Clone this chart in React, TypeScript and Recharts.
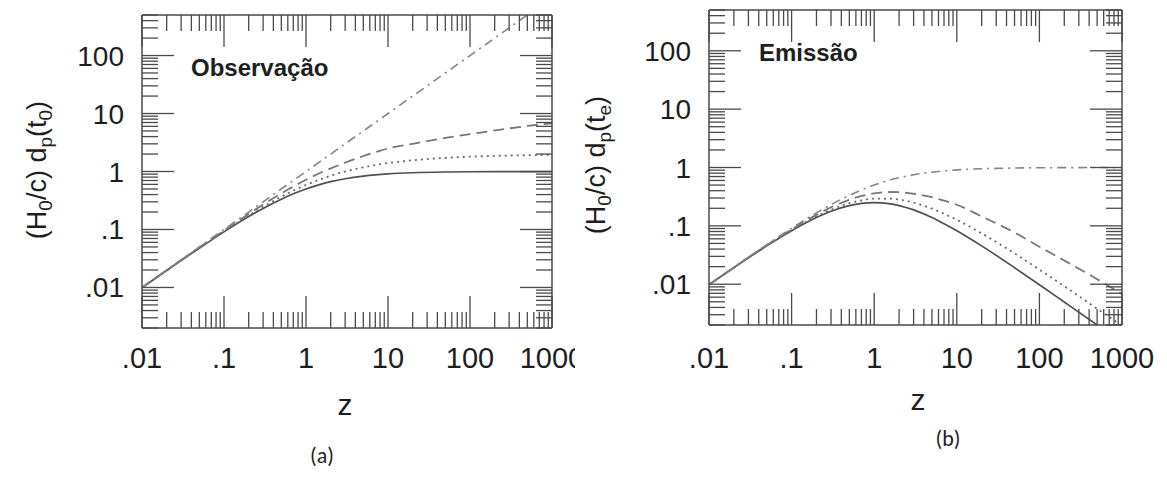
import React from 'react';
import { LineChart, Line, XAxis, YAxis } from 'recharts';

// Redshift samples (shared by both panels)
const zValues = [0.01, 0.02, 0.05, 0.1, 0.2, 0.3, 0.5, 0.7, 1, 1.5, 2, 3, 5, 7, 10, 20, 50, 100, 200, 500, 1000];

// (a) Observação : (H0/c) dp(t0)
const obsSolid = [0.0099, 0.0196, 0.0476, 0.0909, 0.167, 0.231, 0.333, 0.412, 0.5, 0.6, 0.667, 0.75, 0.833, 0.875, 0.909, 0.952, 0.98, 0.99, 0.995, 0.998, 0.999];
const obsDotted = [0.0099, 0.0197, 0.0482, 0.0931, 0.174, 0.246, 0.367, 0.466, 0.586, 0.735, 0.845, 1.0, 1.18, 1.29, 1.4, 1.56, 1.72, 1.8, 1.86, 1.91, 1.94];
const obsDashed = [0.01, 0.0199, 0.049, 0.096, 0.185, 0.27, 0.42, 0.55, 0.72, 0.95, 1.13, 1.42, 1.85, 2.15, 2.5, 3.0, 3.8, 4.4, 5.1, 6.1, 6.8];
const obsDashDot = [0.01, 0.02, 0.05, 0.1, 0.2, 0.3, 0.5, 0.7, 1, 1.5, 2, 3, 5, 7, 10, 20, 50, 100, 200, 500, 1000];

// (b) Emissão : (H0/c) dp(te)
const emiSolid = [0.0098, 0.0192, 0.0454, 0.0826, 0.139, 0.178, 0.222, 0.242, 0.25, 0.24, 0.222, 0.1875, 0.139, 0.109, 0.0826, 0.0454, 0.0192, 0.0098, 0.00495, 0.002, 0.001];
const emiDotted = [0.0098, 0.0193, 0.0459, 0.0846, 0.145, 0.189, 0.245, 0.274, 0.293, 0.294, 0.282, 0.25, 0.197, 0.161, 0.127, 0.0744, 0.0337, 0.0178, 0.00925, 0.0038, 0.00194];
const emiDashed = [0.0099, 0.0194, 0.0467, 0.087, 0.154, 0.208, 0.28, 0.325, 0.36, 0.38, 0.377, 0.355, 0.31, 0.27, 0.23, 0.145, 0.077, 0.044, 0.0255, 0.0122, 0.0068];
const emiDashDot = [0.0099, 0.0196, 0.0476, 0.0909, 0.167, 0.231, 0.333, 0.412, 0.5, 0.6, 0.667, 0.75, 0.833, 0.875, 0.909, 0.952, 0.98, 0.99, 0.995, 0.998, 0.999];

// Axes
const xDomain = [0.01, 1000];
const yDomain = [0.002, 500];
const xMajorTicks = [0.01, 0.1, 1, 10, 100, 1000];
const xTickLabels = ['.01', '.1', '1', '10', '100', '1000'];
const yMajorTicks = [0.01, 0.1, 1, 10, 100];
const yTickLabels = ['.01', '.1', '1', '10', '100'];
const minorMultipliers = [2, 3, 4, 5, 6, 7, 8, 9];
const xDecades = [0.01, 0.1, 1, 10, 100];
const yDecades = [0.001, 0.01, 0.1, 1, 10, 100];

const xTicks = [...xMajorTicks, ...xDecades.flatMap((d) => minorMultipliers.map((m) => m * d))].sort((a, b) => a - b);
const yTicks = [...yMajorTicks, ...yDecades.flatMap((d) => minorMultipliers.map((m) => m * d))]
  .filter((v) => v >= yDomain[0] * 0.999 && v <= yDomain[1] * 1.001)
  .sort((a, b) => a - b);

const FONT = "'Liberation Sans', Arial, Helvetica, sans-serif";
const AXIS = '#4a4a4a';
const TEXT = '#1e1e1e';
const MAJOR_LEN = 32;
const MINOR_LEN = 16;

const findLabel = (v: number, majors: number[], labels: string[]) => {
  const i = majors.findIndex((m) => Math.abs(m - v) / m < 1e-6);
  return i >= 0 ? labels[i] : null;
};

const makeTick = (side: 'bottom' | 'top' | 'left' | 'right', withLabel: boolean, labelOffset: number) => (props: any) => {
  const { x, y, payload } = props;
  const v = payload.value as number;
  const isX = side === 'bottom' || side === 'top';
  const label = isX ? findLabel(v, xMajorTicks, xTickLabels) : findLabel(v, yMajorTicks, yTickLabels);
  const len = label ? MAJOR_LEN : MINOR_LEN;
  let x2 = x, y2 = y;
  if (side === 'bottom') y2 = y - len;
  if (side === 'top') y2 = y + len;
  if (side === 'left') x2 = x + len;
  if (side === 'right') x2 = x - len;
  return (
    <g>
      <line x1={x} y1={y} x2={x2} y2={y2} stroke={AXIS} strokeWidth={1.3} />
      {withLabel && label && side === 'bottom' && (
        <text x={x} y={y + labelOffset} textAnchor="middle" fontSize={29} fontFamily={FONT} fill={TEXT}>
          {label}
        </text>
      )}
      {withLabel && label && side === 'left' && (
        <text x={x - labelOffset} y={y} dy={10} textAnchor="end" fontSize={28} fontFamily={FONT} fill={TEXT}>
          {label}
        </text>
      )}
    </g>
  );
};

const buildRows = (s: number[], d: number[], da: number[], dd: number[]) =>
  zValues.map((z, i) => ({ z, solid: s[i], dotted: d[i], dashed: da[i], dashdot: dd[i] }));

const obsRows = buildRows(obsSolid, obsDotted, obsDashed, obsDashDot);
const emiRows = buildRows(emiSolid, emiDotted, emiDashed, emiDashDot);

type PanelProps = {
  rows: any[];
  width: number;
  height: number;
  margin: { top: number; right: number; bottom: number; left: number };
  xLabelOffset: number;
};

const Panel = ({ rows, width, height, margin, xLabelOffset }: PanelProps) => (
  <LineChart width={width} height={height} data={rows} margin={margin}>
    <XAxis
      xAxisId="bottom"
      orientation="bottom"
      dataKey="z"
      type="number"
      scale="log"
      domain={xDomain}
      allowDataOverflow
      ticks={xTicks}
      interval={0}
      height={1}
      tickSize={0}
      tickMargin={0}
      tickLine={false}
      axisLine={{ stroke: AXIS, strokeWidth: 1.5 }}
      tick={makeTick('bottom', true, xLabelOffset)}
    />
    <XAxis
      xAxisId="top"
      orientation="top"
      dataKey="z"
      type="number"
      scale="log"
      domain={xDomain}
      allowDataOverflow
      ticks={xTicks}
      interval={0}
      height={1}
      tickSize={0}
      tickMargin={0}
      tickLine={false}
      axisLine={{ stroke: AXIS, strokeWidth: 1.5 }}
      tick={makeTick('top', false, 0)}
    />
    <YAxis
      yAxisId="left"
      orientation="left"
      type="number"
      scale="log"
      domain={yDomain}
      allowDataOverflow
      ticks={yTicks}
      interval={0}
      width={60}
      tickSize={0}
      tickMargin={0}
      tickLine={false}
      axisLine={{ stroke: AXIS, strokeWidth: 1.5 }}
      tick={makeTick('left', true, 18)}
    />
    <YAxis
      yAxisId="right"
      orientation="right"
      type="number"
      scale="log"
      domain={yDomain}
      allowDataOverflow
      ticks={yTicks}
      interval={0}
      width={1}
      tickSize={0}
      tickMargin={0}
      tickLine={false}
      axisLine={{ stroke: AXIS, strokeWidth: 1.5 }}
      tick={makeTick('right', false, 0)}
    />
    <Line xAxisId="bottom" yAxisId="left" type="monotone" dataKey="solid" stroke="#505050" strokeWidth={1.7} dot={false} isAnimationActive={false} />
    <Line xAxisId="bottom" yAxisId="left" type="monotone" dataKey="dotted" stroke="#6a6a6a" strokeWidth={1.8} strokeDasharray="2 4" dot={false} isAnimationActive={false} />
    <Line xAxisId="bottom" yAxisId="left" type="monotone" dataKey="dashed" stroke="#777" strokeWidth={1.8} strokeDasharray="11 6" dot={false} isAnimationActive={false} />
    <Line xAxisId="bottom" yAxisId="left" type="monotone" dataKey="dashdot" stroke="#858585" strokeWidth={1.6} strokeDasharray="9 5 2 5" dot={false} isAnimationActive={false} />
  </LineChart>
);

const YTitle = ({ x, y, sub2 }: { x: number; y: number; sub2: string }) => (
  <text transform={`translate(${x},${y}) rotate(-90)`} textAnchor="middle" fontSize={27} fontFamily={FONT} fill={TEXT}>
    (H
    <tspan fontSize={19} dy={6}>0</tspan>
    <tspan dy={-6}>/c) d</tspan>
    <tspan fontSize={19} dy={6}>p</tspan>
    <tspan dy={-6}>(t</tspan>
    <tspan fontSize={19} dy={6}>{sub2}</tspan>
    <tspan dy={-6}>)</tspan>
  </text>
);

export default function App() {
  return (
    <div style={{ position: 'absolute', left: 0, top: 0, width: 1167, height: 477, background: '#fff', overflow: 'hidden' }}>
      <div style={{ position: 'absolute', left: 0, top: 0 }}>
        <Panel rows={obsRows} width={575} height={477} margin={{ top: 14, right: 22, bottom: 148, left: 82 }} xLabelOffset={40} />
      </div>
      <div style={{ position: 'absolute', left: 580, top: 0 }}>
        <Panel rows={emiRows} width={587} height={477} margin={{ top: 9, right: 44, bottom: 151, left: 69 }} xLabelOffset={43} />
      </div>
      <svg width={1167} height={477} style={{ position: 'absolute', left: 0, top: 0, pointerEvents: 'none' }}>
        <YTitle x={46} y={170} sub2="0" />
        <YTitle x={605} y={165} sub2="e" />
        <text x={191} y={76} fontSize={24} fontWeight="bold" fontFamily={FONT} fill={TEXT}>Observação</text>
        <text x={759} y={61} fontSize={24} fontWeight="bold" fontFamily={FONT} fill={TEXT}>Emissão</text>
        <text x={345} y={415} textAnchor="middle" fontSize={30} fontFamily={FONT} fill={TEXT}>z</text>
        <text x={918} y={410} textAnchor="middle" fontSize={30} fontFamily={FONT} fill={TEXT}>z</text>
        <text x={322} y={463} textAnchor="middle" fontSize={22} fontFamily="Carlito, 'Open Sans', sans-serif" fill={TEXT}>(a)</text>
        <text x={948} y={446} textAnchor="middle" fontSize={22} fontFamily="Carlito, 'Open Sans', sans-serif" fill={TEXT}>(b)</text>
      </svg>
    </div>
  );
}
